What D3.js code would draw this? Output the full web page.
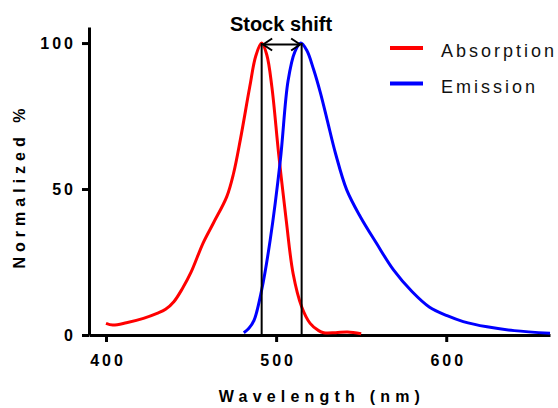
<!DOCTYPE html>
<html>
<head>
<meta charset="utf-8">
<script src="https://cdn.jsdelivr.net/npm/d3@7"></script>
<style>
  body { margin: 0; background: #fff; }
  svg { font-family: Arial, "Liberation Sans", sans-serif; }
</style>
</head>
<body>
<svg id="chart" width="558" height="408"></svg>
<script>
// absorption spectrum
var absWave = [400, 404, 412, 422, 430, 435, 440, 445, 450, 457, 463, 471, 475, 479, 484.5, 488, 491.5, 494.5, 497.5, 501.5, 506, 510, 515, 520, 525, 528, 535, 542, 550];
var absValue = [4, 3.4, 4.2, 5.7, 7.4, 8.8, 11.5, 16, 21.5, 31.4, 38.2, 47.4, 55.4, 67, 85, 95.5, 100, 96, 85, 62, 39, 21, 9.7, 4, 1.5, 0.8, 0.8, 1, 0.4];

// emission spectrum
var emWave = [481, 484, 487, 491.5, 496.5, 502.5, 507, 511, 514.5, 518, 522, 526, 530, 535, 541.5, 549.5, 559, 569, 580, 590, 600.5, 610, 624, 640, 661];
var emValue = [0.8, 2.3, 5, 15.4, 32.5, 60, 87, 97, 100, 97.5, 91, 83, 73.7, 62, 49.7, 40.5, 31.4, 22.3, 14.8, 9.6, 6.6, 4.6, 2.8, 1.5, 0.6];

var seriesNames = ["Absorption", "Emission"];
var seriesColors = ["#ff0000", "#0000ff"];

var xTicks = [400, 500, 600];
var yTicks = [0, 50, 100];

// peak positions for the stock shift marker
var peakWaves = [491.5, 515];

var svg = d3.select("#chart");

var x = d3.scaleLinear().domain([390, 661]).range([89, 550]);
var y = d3.scaleLinear().domain([0, 105.5]).range([335, 27]);

// axes
var xAxis = svg.append("g")
    .attr("transform", "translate(0," + y(0) + ")")
    .call(d3.axisBottom(x).tickValues(xTicks).tickSize(7).tickSizeOuter(0).tickPadding(13));
var yAxis = svg.append("g")
    .attr("transform", "translate(" + x(390) + ",0)")
    .call(d3.axisLeft(y).tickValues(yTicks).tickSize(7).tickSizeOuter(0).tickPadding(6));

[xAxis, yAxis].forEach(function(a) {
    a.attr("font-size", null).attr("font-family", null);
    a.selectAll("path.domain").attr("stroke", "#000").attr("stroke-width", 3);
    a.selectAll(".tick line").attr("stroke", "#000").attr("stroke-width", 3);
    a.selectAll(".tick text")
        .attr("fill", "#000")
        .attr("font-size", 16)
        .attr("font-weight", 700)
        .style("letter-spacing", "3px");
});
xAxis.selectAll(".tick text").attr("dx", "1.5px");
yAxis.selectAll(".tick text").attr("dy", "0.36em");

// axis titles
svg.append("text")
    .attr("x", 322)
    .attr("y", 402)
    .attr("text-anchor", "middle")
    .attr("font-size", 16)
    .attr("font-weight", 700)
    .style("letter-spacing", "5.2px")
    .text("Wavelength (nm)");

svg.append("text")
    .attr("transform", "translate(25,186) rotate(-90)")
    .attr("text-anchor", "middle")
    .attr("font-size", 16)
    .attr("font-weight", 700)
    .style("letter-spacing", "5px")
    .text("Normalized %");

// spectra
var line = d3.line()
    .x(function(d) { return x(d[0]); })
    .y(function(d) { return y(d[1]); })
    .curve(d3.curveCatmullRom.alpha(0.5));

var series = [d3.zip(absWave, absValue), d3.zip(emWave, emValue)];

svg.selectAll("path.spectrum")
    .data(series)
    .enter()
    .append("path")
    .attr("class", "spectrum")
    .attr("d", line)
    .attr("fill", "none")
    .attr("stroke", function(d, i) { return seriesColors[i]; })
    .attr("stroke-width", 3);

// vertical lines at the peaks
svg.selectAll("line.peak")
    .data(peakWaves)
    .enter()
    .append("line")
    .attr("x1", function(d) { return x(d); })
    .attr("x2", function(d) { return x(d); })
    .attr("y1", y(0))
    .attr("y2", y(100))
    .attr("stroke", "#000")
    .attr("stroke-width", 2);

// double arrow between peaks
var ay = y(99.5);
var ax1 = x(peakWaves[0]) + 1.5, ax2 = x(peakWaves[1]) - 1.5;
svg.append("line")
    .attr("x1", ax1).attr("x2", ax2)
    .attr("y1", ay).attr("y2", ay)
    .attr("stroke", "#000").attr("stroke-width", 2);
svg.append("path")
    .attr("d", "M" + (ax1 + 9) + "," + (ay - 6) + "L" + ax1 + "," + ay + "L" + (ax1 + 9) + "," + (ay + 6))
    .attr("fill", "none").attr("stroke", "#000").attr("stroke-width", 2);
svg.append("path")
    .attr("d", "M" + (ax2 - 9) + "," + (ay - 6) + "L" + ax2 + "," + ay + "L" + (ax2 - 9) + "," + (ay + 6))
    .attr("fill", "none").attr("stroke", "#000").attr("stroke-width", 2);

svg.append("text")
    .attr("x", 281)
    .attr("y", 31)
    .attr("text-anchor", "middle")
    .attr("font-size", 20)
    .attr("font-weight", 700)
    .text("Stock shift");

// legend
var legend = svg.selectAll("g.legend")
    .data(seriesNames)
    .enter()
    .append("g")
    .attr("class", "legend")
    .attr("transform", function(d, i) { return "translate(390," + (48 + i * 35.6) + ")"; });

legend.append("line")
    .attr("x1", 0).attr("x2", 33)
    .attr("y1", 0).attr("y2", 0)
    .attr("stroke", function(d, i) { return seriesColors[i]; })
    .attr("stroke-width", 4);

legend.append("text")
    .attr("x", 51)
    .attr("y", 9)
    .attr("font-size", 18)
    .style("letter-spacing", "3px")
    .attr("fill", "#111")
    .text(function(d) { return d; });
</script>
</body>
</html>
